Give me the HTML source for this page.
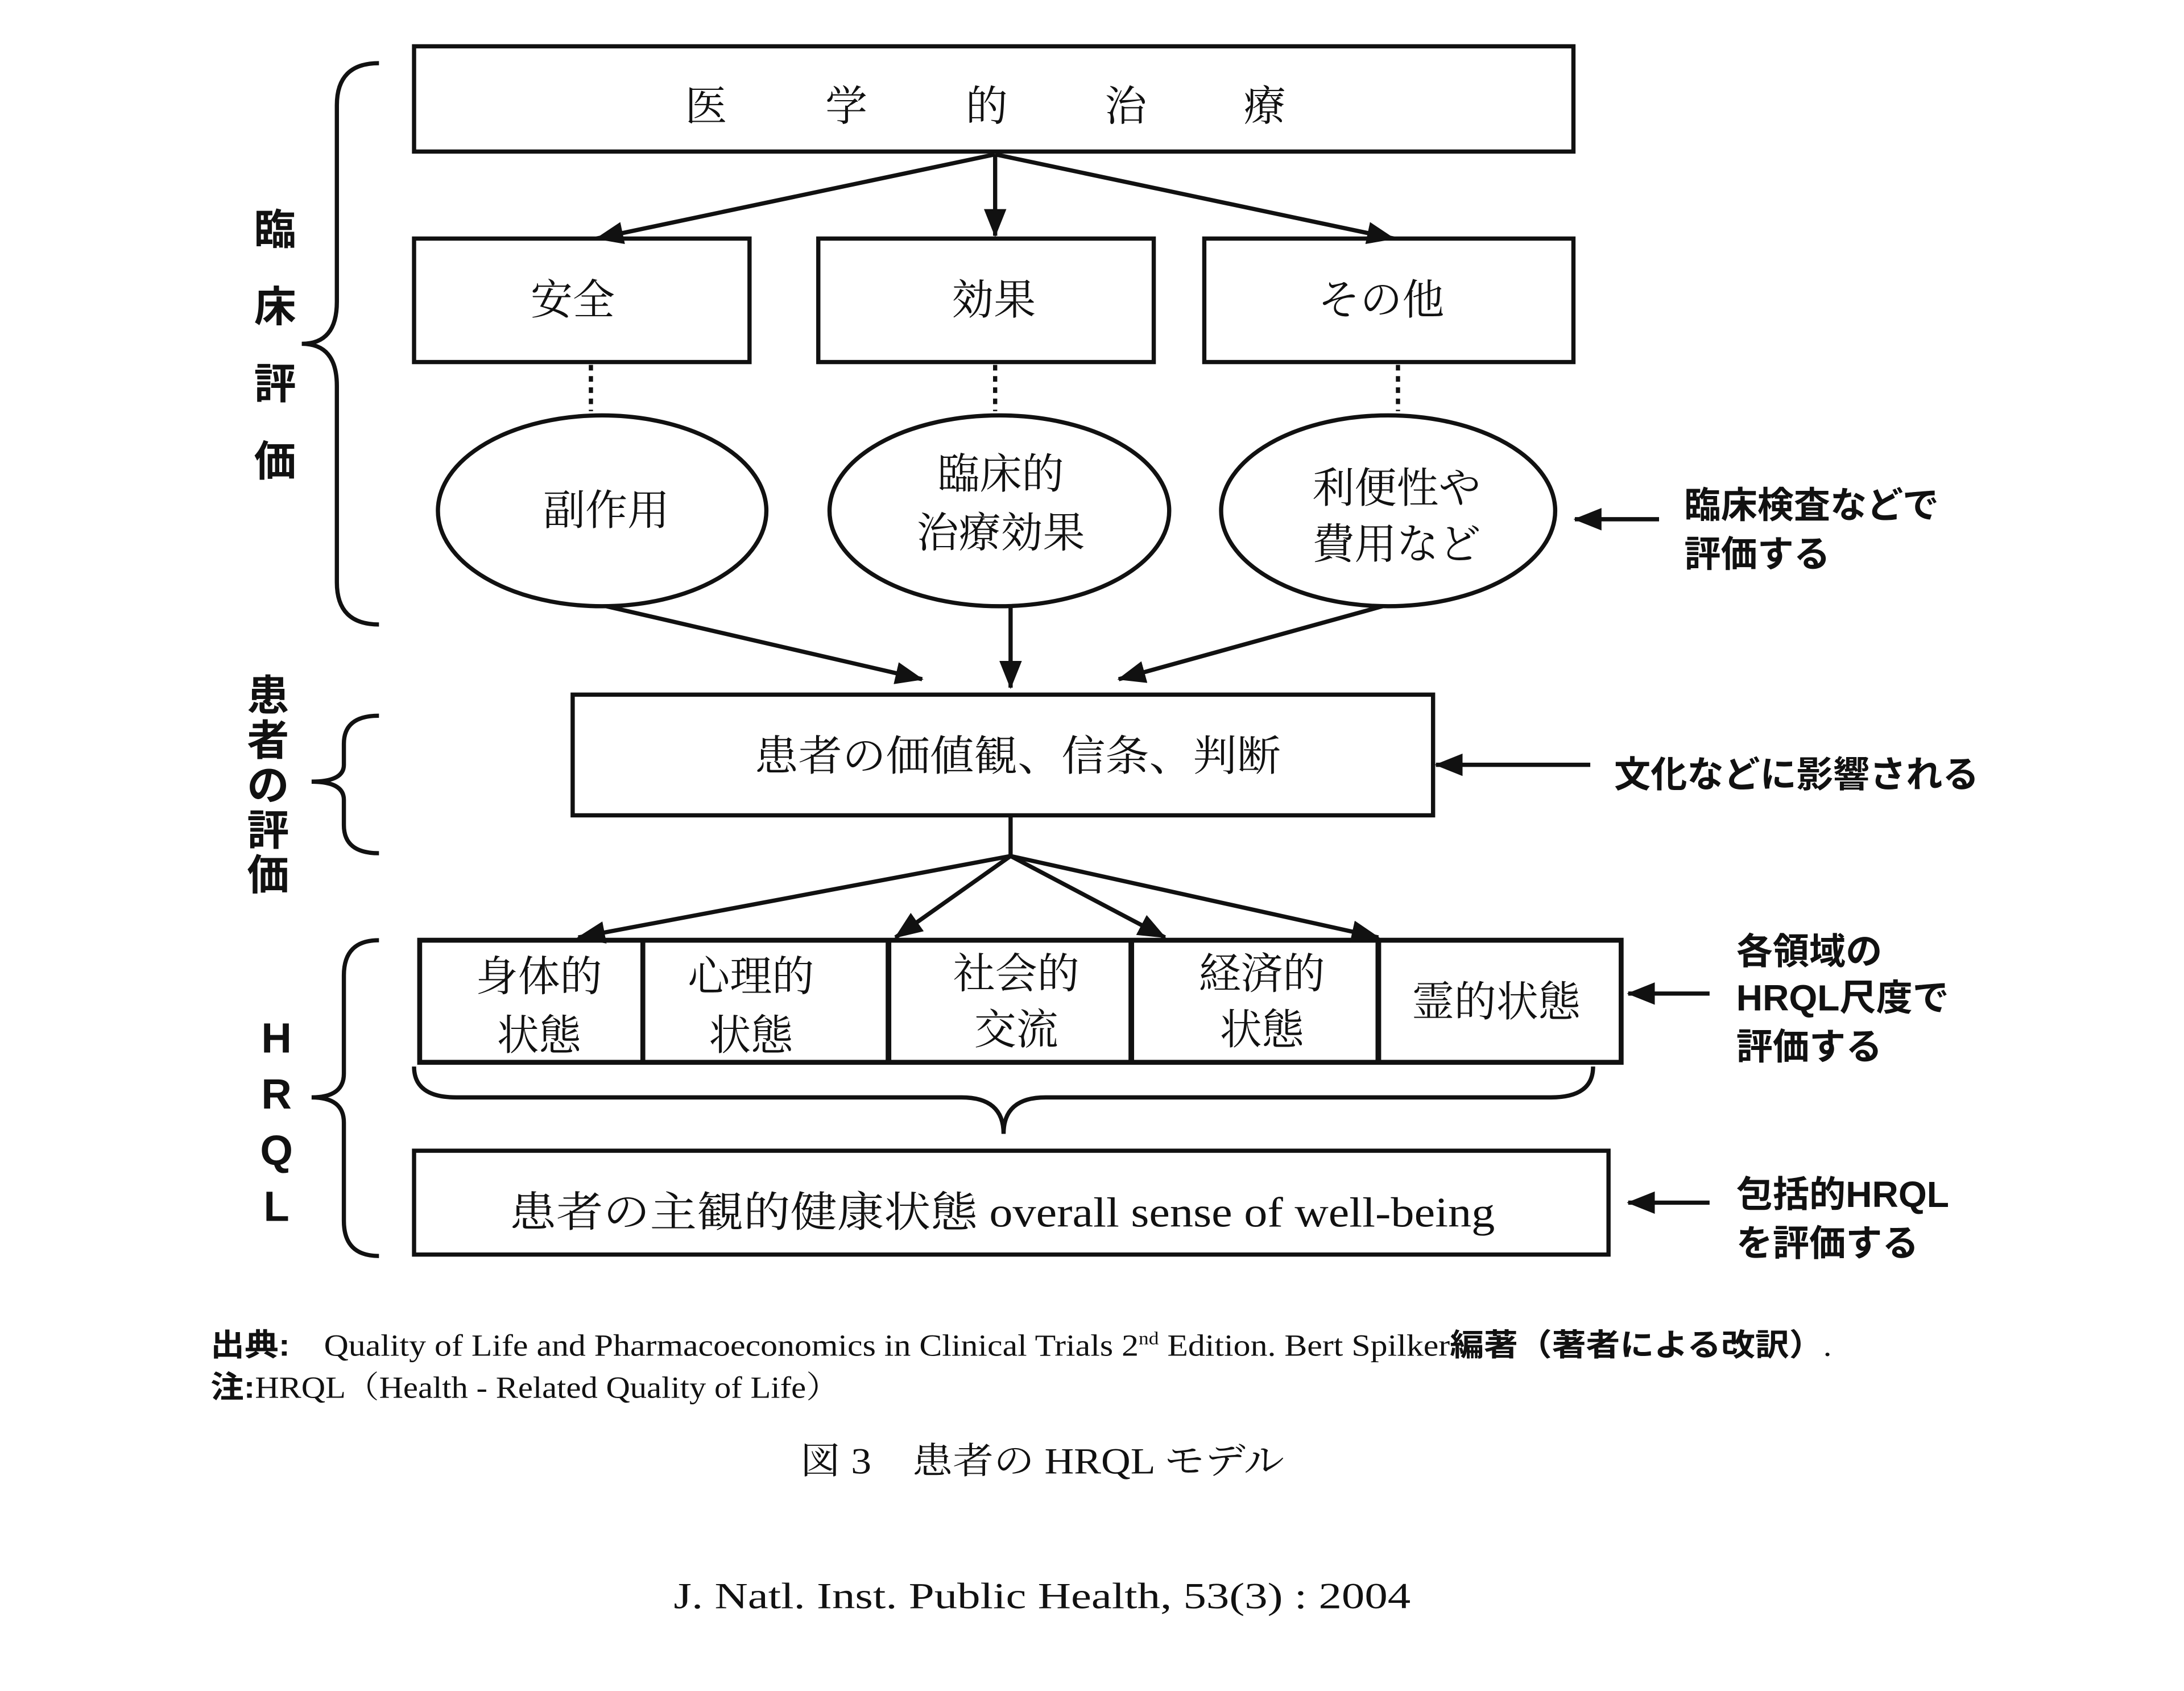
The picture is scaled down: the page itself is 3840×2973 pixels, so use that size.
<!DOCTYPE html>
<html><head><meta charset="utf-8"><style>
html,body{margin:0;padding:0;background:#fff;}
svg{display:block;}
text{font-family:"Liberation Serif","Noto Serif CJK SC","Noto Sans CJK JP",serif;fill:#111;}
.b{font-family:"Liberation Sans","Noto Sans CJK JP",sans-serif;font-weight:bold;}
</style></head><body>
<svg width="3840" height="2973" viewBox="0 0 1556 1205" preserveAspectRatio="none" xmlns="http://www.w3.org/2000/svg">
<defs><marker id="A" markerWidth="20" markerHeight="16" refX="19" refY="8" orient="auto" markerUnits="userSpaceOnUse"><path d="M0,0 L20,8 L0,16 Z" fill="#111"/></marker></defs>
<rect width="1556" height="1205" fill="#fff"/>
<g fill="none" stroke="#111" stroke-width="3">
<rect x="295" y="33" width="826" height="75"/>
<rect x="295" y="170" width="239" height="88"/>
<rect x="583" y="170" width="239" height="88"/>
<rect x="858" y="170" width="263" height="88"/>
<ellipse cx="429" cy="364" rx="117" ry="68"/>
<ellipse cx="712" cy="364" rx="121" ry="68"/>
<ellipse cx="989" cy="364" rx="119" ry="68"/>
<rect x="408" y="495" width="613" height="86"/>
<rect x="299" y="670" width="856" height="87" stroke-width="3.5"/>
<line x1="458" y1="670" x2="458" y2="757" stroke-width="3.5"/>
<line x1="633" y1="670" x2="633" y2="757" stroke-width="4"/>
<line x1="806" y1="670" x2="806" y2="757" stroke-width="4"/>
<line x1="982" y1="670" x2="982" y2="757" stroke-width="4"/>
<rect x="295" y="820" width="851" height="74"/>
<g stroke-dasharray="4,4"><line x1="421" y1="260" x2="421" y2="293"/><line x1="709" y1="260" x2="709" y2="293"/><line x1="996" y1="260" x2="996" y2="293"/></g>
<g marker-end="url(#A)">
<line x1="709" y1="110" x2="425" y2="170"/><line x1="709" y1="110" x2="709" y2="168"/><line x1="709" y1="110" x2="993" y2="170"/>
<line x1="432" y1="432" x2="657" y2="484"/><line x1="720" y1="432" x2="720" y2="490"/><line x1="985" y1="432" x2="797" y2="484"/>
<line x1="720" y1="610" x2="412" y2="668"/><line x1="720" y1="610" x2="638" y2="668"/><line x1="720" y1="610" x2="830" y2="668"/><line x1="720" y1="610" x2="982" y2="668"/>
<line x1="1182" y1="370" x2="1122" y2="370"/><line x1="1133" y1="545" x2="1023" y2="545"/>
<line x1="1218" y1="708" x2="1160" y2="708"/><line x1="1218" y1="857" x2="1160" y2="857"/>
</g>
<line x1="720" y1="581" x2="720" y2="610"/>
<path d="M270,45 Q240,45 240,75 L240,215 Q240,245 215,245 Q240,245 240,275 L240,415 Q240,445 270,445"/>
<path d="M270,510 Q245,510 245,530 L245,545 Q245,557 222,557 Q245,557 245,570 L245,588 Q245,608 270,608"/>
<path d="M270,670 Q245,670 245,695 L245,765 Q245,782 222,782 Q245,782 245,800 L245,870 Q245,895 270,895"/>
<path d="M295,760 Q295,782 325,782 L685,782 Q715,782 715,808 Q715,782 745,782 L1105,782 Q1135,782 1135,760"/>
</g>
<g font-size="30" text-anchor="middle">
<text x="503" y="86">医</text><text x="603" y="86">学</text><text x="703" y="86">的</text><text x="802" y="86">治</text><text x="901" y="86">療</text>
<text x="408" y="224">安全</text><text x="708" y="224">効果</text><text x="984" y="224">その他</text>
<text x="432" y="374">副作用</text>
<text x="713" y="348">臨床的</text><text x="713" y="390">治療効果</text>
<text x="995" y="358">利便性や</text><text x="995" y="398">費用など</text>
<text x="725" y="549" textLength="375" lengthAdjust="spacingAndGlyphs">患者の価値観、信条、判断</text>
<text x="384" y="706">身体的</text><text x="384" y="748">状態</text>
<text x="535" y="706">心理的</text><text x="535" y="748">状態</text>
<text x="724" y="704">社会的</text><text x="724" y="744">交流</text>
<text x="899" y="704">経済的</text><text x="899" y="744">状態</text>
<text x="1066" y="724">霊的状態</text>
<text x="714" y="874" textLength="702" lengthAdjust="spacingAndGlyphs">患者の主観的健康状態 overall sense of well-being</text>
</g>
<g font-size="26">
<text x="1200" y="369" class="b">臨床検査などで</text><text x="1200" y="404" class="b">評価する</text>
<text x="1150" y="561" class="b">文化などに影響される</text>
<text x="1237" y="687" class="b">各領域の</text><text x="1237" y="720" class="b">HRQL尺度で</text><text x="1237" y="755" class="b">評価する</text>
<text x="1237" y="860" class="b">包括的HRQL</text><text x="1237" y="895" class="b">を評価する</text>
</g>
<g font-size="30" text-anchor="middle">
<text x="196" y="174" class="b">臨</text><text x="196" y="229" class="b">床</text><text x="196" y="284" class="b">評</text><text x="196" y="339" class="b">価</text>
<text x="191" y="506" class="b">患</text><text x="191" y="538" class="b">者</text><text x="191" y="570" class="b">の</text><text x="191" y="602" class="b">評</text><text x="191" y="634" class="b">価</text>
<text x="197" y="750" class="b">H</text><text x="197" y="790" class="b">R</text><text x="197" y="830" class="b">Q</text><text x="197" y="870" class="b">L</text>
</g>
<text x="150" y="966" font-size="22" textLength="1155" lengthAdjust="spacingAndGlyphs"><tspan class="b">出典:</tspan>　Quality of Life and Pharmacoeconomics in Clinical Trials 2<tspan font-size="13" dy="-8">nd</tspan><tspan dy="8"> Edition. Bert Spilker</tspan><tspan class="b">編著（著者による改訳）</tspan>.</text>
<text x="150" y="996" font-size="22" textLength="448" lengthAdjust="spacingAndGlyphs"><tspan class="b">注:</tspan>HRQL（Health - Related Quality of Life）</text>
<text x="570" y="1050" font-size="26" textLength="345" lengthAdjust="spacingAndGlyphs" fill="#333">図 3　患者の HRQL モデル</text>
<text x="480" y="1146" font-size="26" textLength="525" lengthAdjust="spacingAndGlyphs" fill="#333">J. Natl. Inst. Public Health, 53(3) : 2004</text>
</svg>
</body></html>
